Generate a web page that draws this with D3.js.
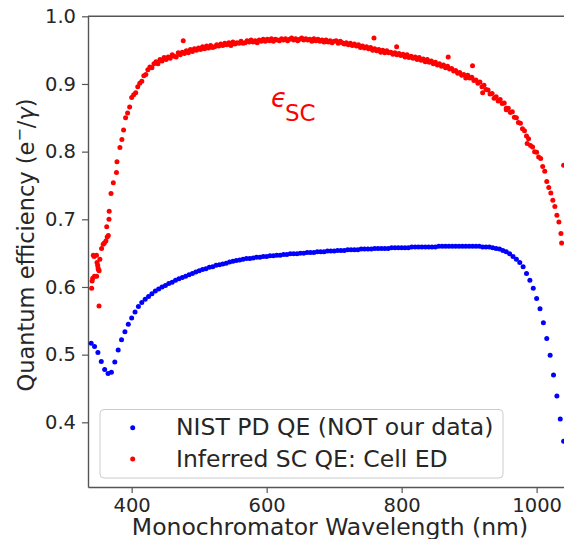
<!DOCTYPE html>
<html>
<head>
<meta charset="utf-8">
<script src="https://cdn.jsdelivr.net/npm/d3@7"></script>
<style>
  body { margin: 0; background: #fff; }
  svg { display: block; font-family: "DejaVu Sans", sans-serif; }
</style>
</head>
<body>
<div id="chart"></div>
<script>
// NIST photodiode QE, 5 nm steps from 340 nm
const blueWl = d3.range(340, 1041, 5);
const blueQe = [
  0.517, 0.512, 0.503, 0.490, 0.478, 0.472, 0.474, 0.489, 0.507, 0.522,
  0.534, 0.545, 0.554, 0.563, 0.571, 0.577, 0.582, 0.586, 0.590, 0.594,
  0.597, 0.600, 0.602, 0.605, 0.607, 0.610, 0.612, 0.614, 0.616, 0.618,
  0.620, 0.622, 0.624, 0.626, 0.627, 0.629, 0.630, 0.632, 0.633, 0.634,
  0.635, 0.637, 0.638, 0.639, 0.640, 0.641, 0.642, 0.642, 0.643, 0.644,
  0.644, 0.645, 0.645, 0.646, 0.646, 0.647, 0.647, 0.648, 0.648, 0.649,
  0.649, 0.649, 0.650, 0.650, 0.651, 0.651, 0.651, 0.652, 0.652, 0.652,
  0.653, 0.653, 0.653, 0.654, 0.654, 0.654, 0.655, 0.655, 0.655, 0.655,
  0.656, 0.656, 0.656, 0.656, 0.657, 0.657, 0.657, 0.657, 0.657, 0.658,
  0.658, 0.658, 0.658, 0.658, 0.658, 0.659, 0.659, 0.659, 0.659, 0.659,
  0.659, 0.659, 0.659, 0.660, 0.660, 0.660, 0.660, 0.660, 0.660, 0.660,
  0.660, 0.660, 0.660, 0.660, 0.660, 0.660, 0.659, 0.659, 0.659, 0.658,
  0.657, 0.656, 0.654, 0.652, 0.649, 0.645, 0.641, 0.636, 0.630, 0.620,
  0.610, 0.598, 0.583, 0.568, 0.547, 0.524, 0.499, 0.470, 0.439, 0.405,
  0.372
];

// inferred solar cell QE, 3 nm scan from 388 nm
const redWl = d3.range(388, 1037, 3);
const redQe = [
  0.832, 0.850, 0.857, 0.866, 0.880, 0.884, 0.887, 0.896, 0.901, 0.904,
  0.912, 0.914, 0.921, 0.925, 0.924, 0.930, 0.933, 0.930, 0.936, 0.934,
  0.939, 0.936, 0.940, 0.938, 0.943, 0.941, 0.940, 0.946, 0.943, 0.947,
  0.945, 0.949, 0.946, 0.951, 0.948, 0.952, 0.950, 0.953, 0.951, 0.955,
  0.952, 0.956, 0.953, 0.957, 0.954, 0.955, 0.958, 0.956, 0.959, 0.957,
  0.960, 0.958, 0.961, 0.957, 0.962, 0.959, 0.961, 0.960, 0.963, 0.960,
  0.961, 0.964, 0.962, 0.965, 0.962, 0.964, 0.961, 0.965, 0.963, 0.966,
  0.963, 0.966, 0.964, 0.967, 0.963, 0.966, 0.965, 0.964, 0.967, 0.965,
  0.967, 0.964, 0.966, 0.968, 0.965, 0.967, 0.964, 0.966, 0.968, 0.965,
  0.967, 0.965, 0.966, 0.963, 0.967, 0.964, 0.966, 0.963, 0.965, 0.962,
  0.965, 0.962, 0.964, 0.961, 0.963, 0.964, 0.960, 0.963, 0.961, 0.959,
  0.961, 0.958, 0.960, 0.957, 0.959, 0.956, 0.958, 0.954, 0.956, 0.953,
  0.955, 0.952, 0.954, 0.950, 0.952, 0.949, 0.951, 0.947, 0.950, 0.946,
  0.949, 0.946, 0.947, 0.944, 0.946, 0.943, 0.945, 0.942, 0.944, 0.940,
  0.943, 0.939, 0.941, 0.938, 0.940, 0.936, 0.939, 0.935, 0.937, 0.933,
  0.936, 0.932, 0.934, 0.930, 0.932, 0.928, 0.930, 0.926, 0.928, 0.924,
  0.926, 0.922, 0.923, 0.919, 0.920, 0.916, 0.917, 0.913, 0.914, 0.909,
  0.913, 0.909, 0.910, 0.905, 0.906, 0.901, 0.903, 0.896, 0.898, 0.892,
  0.891, 0.885, 0.886, 0.879, 0.881, 0.875, 0.877, 0.871, 0.872, 0.864,
  0.864, 0.858, 0.859, 0.851, 0.850, 0.843, 0.842, 0.834, 0.831, 0.823,
  0.819, 0.809, 0.807, 0.800, 0.799, 0.792, 0.790, 0.778, 0.771, 0.756,
  0.747, 0.739, 0.728, 0.719, 0.706, 0.696, 0.679
];

// extra red points: short-wavelength cluster and stray readings
const redExtraWl = [
  340.7, 341.4, 342.3, 343.2, 344.4, 344.9, 347.9, 348.1, 348.7, 349.6,
  350.3, 350.6, 351.6, 351.8, 352.9, 355.4, 357.8, 359.5, 361.8, 363.0,
  363.7, 365.4, 366.4, 366.7, 369.4, 372.8, 377.5, 378.2, 382.6, 385.5,
  476.4, 759.0, 792.6, 869.0, 905.0, 920.0, 955.0, 986.0, 1037.0, 1040.0
];
const redExtraQe = [
  0.598, 0.609, 0.613, 0.647, 0.645, 0.616, 0.647, 0.616, 0.636, 0.632,
  0.628, 0.626, 0.572, 0.624, 0.641, 0.657, 0.663, 0.665, 0.668, 0.689,
  0.674, 0.676, 0.700, 0.712, 0.738, 0.754, 0.769, 0.785, 0.806, 0.818,
  0.964, 0.968, 0.955, 0.940, 0.927, 0.887, 0.862, 0.812, 0.665, 0.780
];

const xTicks = [400, 600, 800, 1000];
const yTicks = [0.4, 0.5, 0.6, 0.7, 0.8, 0.9, 1.0];
const legendLabels = ['NIST PD QE (NOT our data)', 'Inferred SC QE: Cell ED'];

const width = 564, height = 539;
const tickFont = 19.5;
const labelFont = 23.5;
const spine = '#555';
const ink = '#262626';

const blueData = blueWl.map((w, i) => ({ w: w, q: blueQe[i] }));
const redData = redWl.map((w, i) => ({ w: w, q: redQe[i] }))
  .concat(redExtraWl.map((w, i) => ({ w: w, q: redExtraQe[i] })));

const xScale = d3.scaleLinear().domain([335.3, 1045]).range([88, 567]);
const yScale = d3.scaleLinear().domain([0.3044, 1.0]).range([487, 16.3]);

const svg = d3.select('#chart').append('svg')
  .attr('width', width)
  .attr('height', height);

// axes
const xAxis = svg.append('g')
  .attr('transform', 'translate(0, 487)')
  .call(d3.axisBottom(xScale).tickValues(xTicks).tickFormat(d3.format('d'))
    .tickSize(6).tickSizeOuter(0).tickPadding(5));

const yAxis = svg.append('g')
  .attr('transform', 'translate(88, 0)')
  .call(d3.axisLeft(yScale).tickValues(yTicks).tickFormat(d3.format('.1f'))
    .tickSize(6).tickSizeOuter(0).tickPadding(6));

[xAxis, yAxis].forEach((ax) => {
  ax.select('.domain').attr('stroke', spine).attr('stroke-width', 1.4);
  ax.selectAll('.tick line').attr('stroke', spine).attr('stroke-width', 1.2);
  ax.selectAll('.tick text')
    .attr('fill', ink)
    .style('font-size', tickFont + 'px')
    .style('font-family', '"DejaVu Sans", sans-serif');
});

// top spine
svg.append('line')
  .attr('x1', xScale.range()[0]).attr('x2', xScale.range()[1])
  .attr('y1', yScale.range()[1]).attr('y2', yScale.range()[1])
  .attr('stroke', spine)
  .attr('stroke-width', 1.4);

// points
svg.append('g').selectAll('circle')
  .data(blueData)
  .join('circle')
    .attr('cx', (d) => xScale(d.w))
    .attr('cy', (d) => yScale(d.q))
    .attr('r', 2.5)
    .attr('fill', '#0000ff');

svg.append('g').selectAll('circle')
  .data(redData)
  .join('circle')
    .attr('cx', (d) => xScale(d.w))
    .attr('cy', (d) => yScale(d.q))
    .attr('r', 2.5)
    .attr('fill', '#ff0000');

// annotation
const ann = svg.append('text')
  .attr('x', 271)
  .attr('y', 107)
  .attr('fill', '#ff0000');
ann.append('tspan')
  .style('font-size', '26px')
  .style('font-style', 'italic')
  .text('ϵ');
ann.append('tspan')
  .attr('dx', -2)
  .attr('dy', 14)
  .style('font-size', '23px')
  .text('SC');

// axis labels
svg.append('text')
  .attr('x', 330)
  .attr('y', 535)
  .attr('text-anchor', 'middle')
  .attr('fill', ink)
  .style('font-size', labelFont + 'px')
  .text('Monochromator Wavelength (nm)');

const yLab = svg.append('text')
  .attr('transform', 'translate(34, 245) rotate(-90)')
  .attr('text-anchor', 'middle')
  .attr('fill', ink)
  .style('font-size', '22.5px');
yLab.append('tspan').text('Quantum efficiency (e');
yLab.append('tspan').attr('dy', -9).style('font-size', '16px').text('−');
yLab.append('tspan').attr('dy', 9).text('/');
yLab.append('tspan').style('font-style', 'italic').text('γ');
yLab.append('tspan').text(')');

// legend
const legend = svg.append('g');
legend.append('rect')
  .attr('x', 100).attr('y', 409.5)
  .attr('width', 403).attr('height', 68.5)
  .attr('rx', 4)
  .attr('fill', '#fff')
  .attr('fill-opacity', 0.8)
  .attr('stroke', '#cccccc')
  .attr('stroke-width', 1);

const legendColors = ['#0000ff', '#ff0000'];
const legendRows = [427.7, 459];
legendLabels.forEach((label, i) => {
  legend.append('circle')
    .attr('cx', 132.7).attr('cy', legendRows[i])
    .attr('r', 2.5)
    .attr('fill', legendColors[i]);
  legend.append('text')
    .attr('x', 176).attr('y', legendRows[i] + 7.5)
    .attr('fill', ink)
    .style('font-size', labelFont + 'px')
    .text(label);
});
</script>
</body>
</html>
